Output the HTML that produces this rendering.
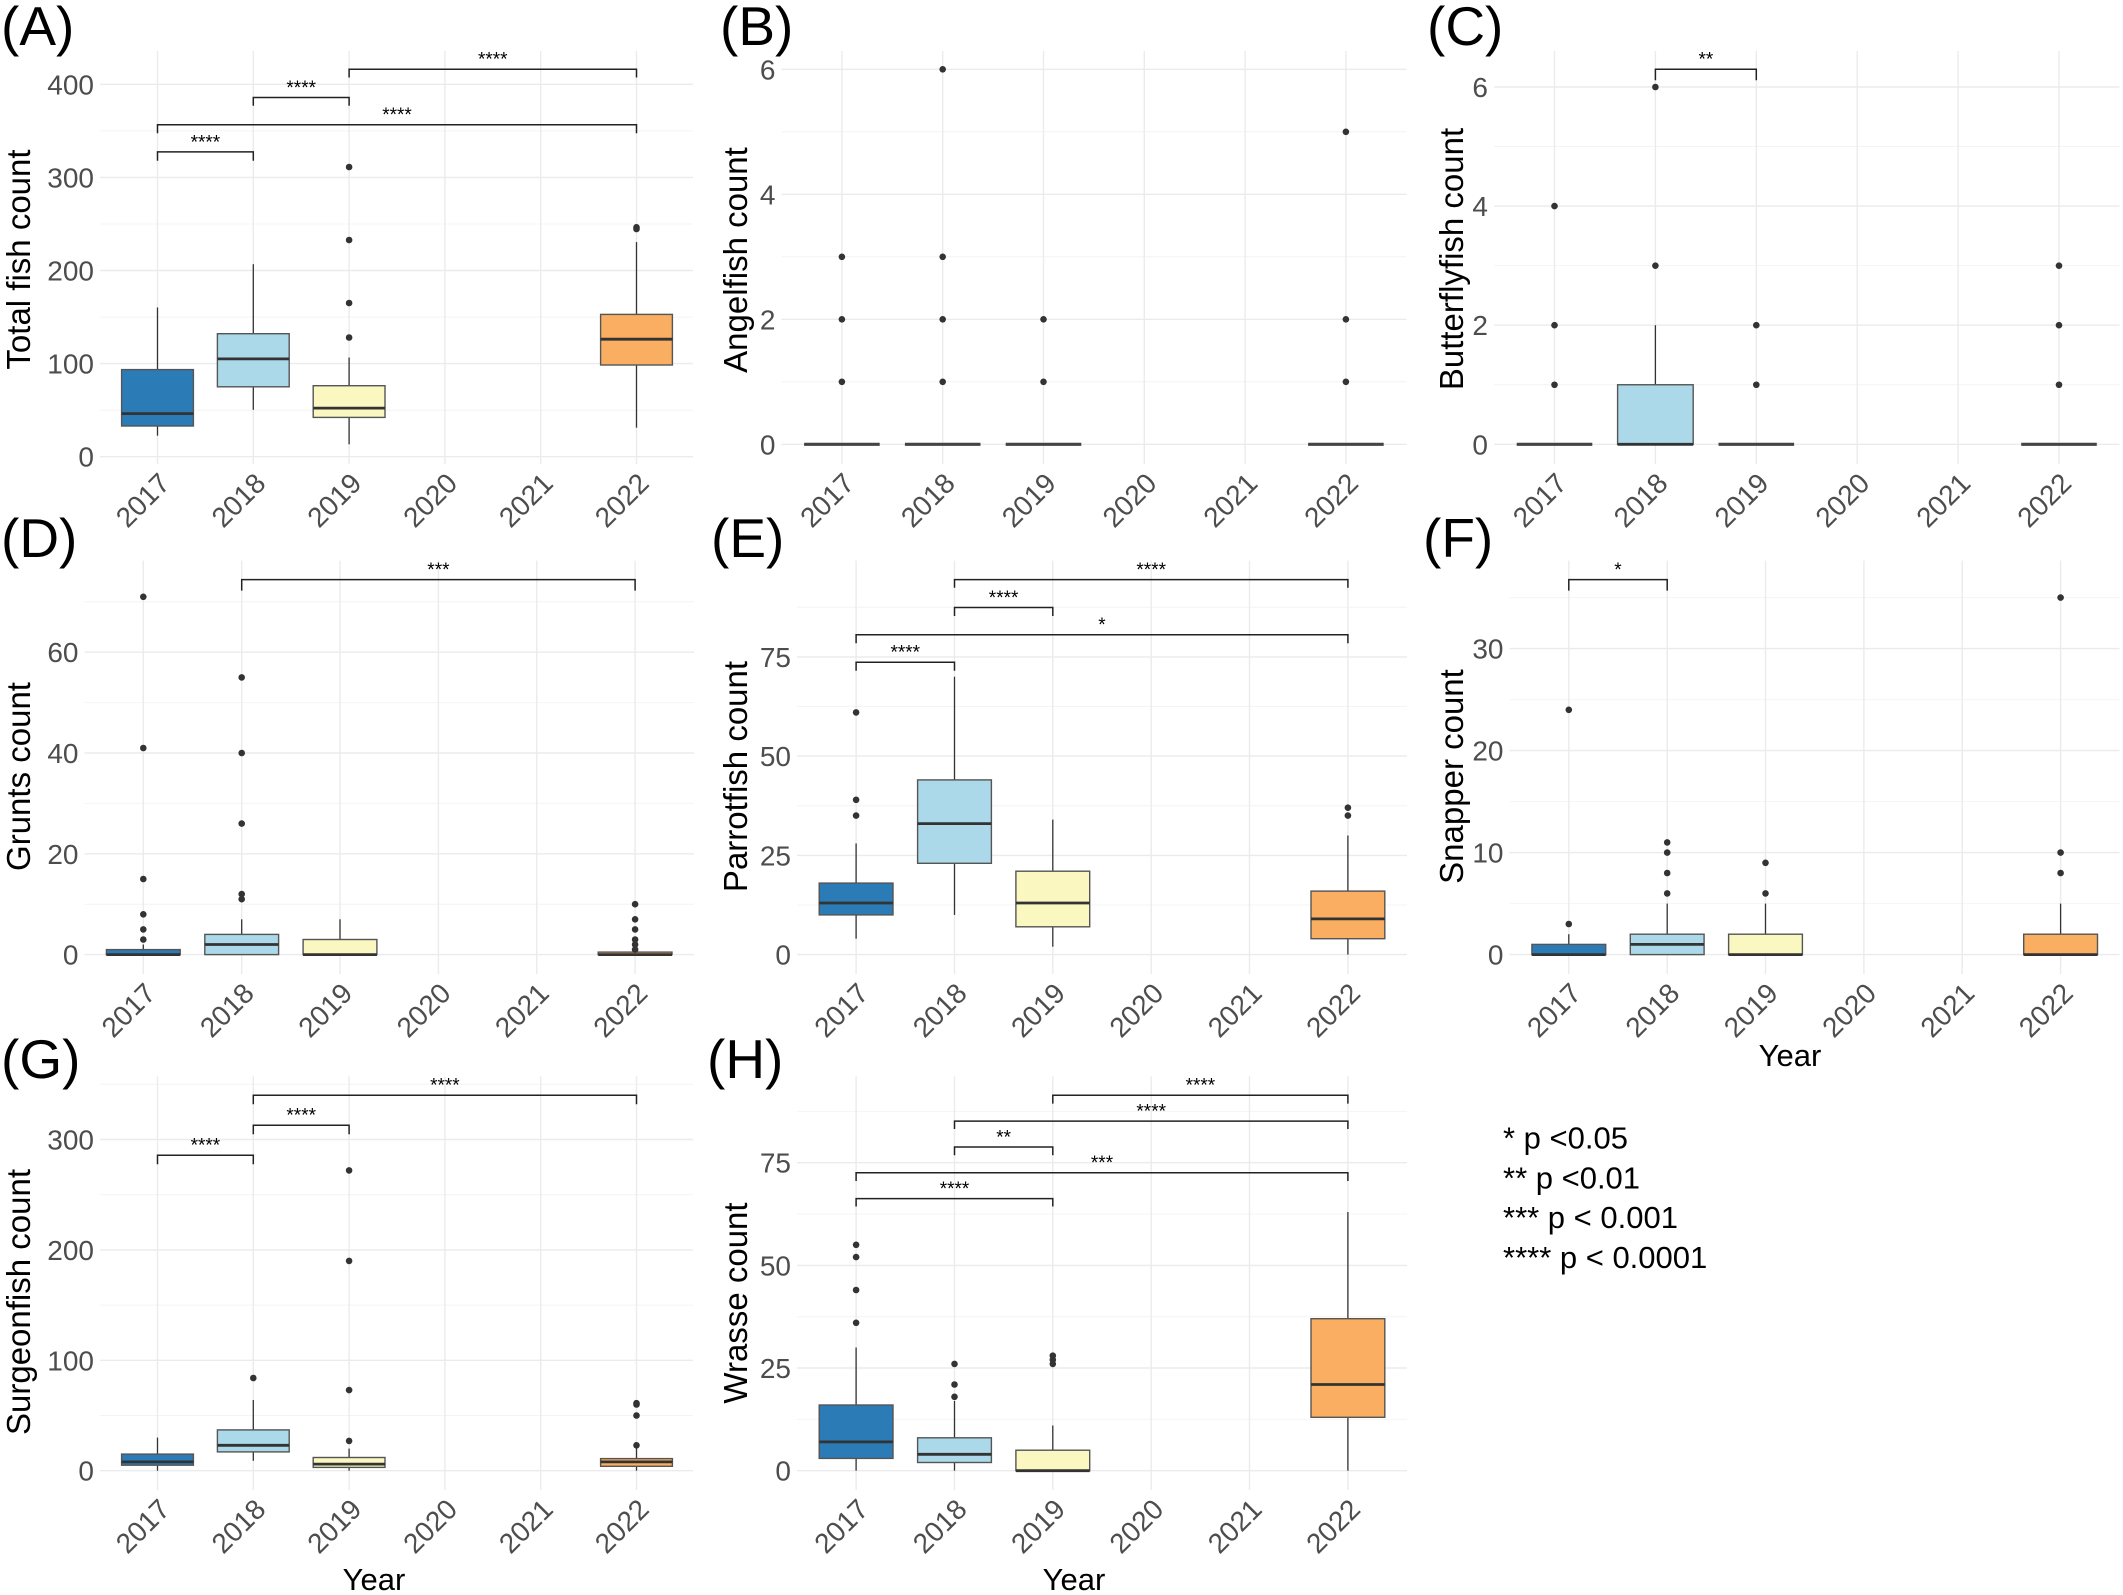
<!DOCTYPE html>
<html><head><meta charset="utf-8"><style>
html,body{margin:0;padding:0;background:#fff;}
svg{display:block;}
.M{stroke:#EBEBEB;stroke-width:1.4;fill:none}
.m{stroke:#F4F4F4;stroke-width:1;fill:none}
.yt{font-family:"Liberation Sans",Arial,sans-serif;font-size:28px;fill:#4D4D4D;text-anchor:end}
.xt{font-family:"Liberation Sans",Arial,sans-serif;font-size:28px;fill:#4D4D4D;text-anchor:end}
.at{font-family:"Liberation Sans",Arial,sans-serif;font-size:33px;fill:#000;text-anchor:middle}
.pl{font-family:"Liberation Sans",Arial,sans-serif;font-size:55px;fill:#000}
.st{font-family:"Liberation Sans",Arial,sans-serif;font-size:19px;fill:#000;text-anchor:middle}
.lg{font-family:"Liberation Sans",Arial,sans-serif;font-size:31px;fill:#000}
.br{stroke:#222;stroke-width:1.5;fill:none}
.wh{stroke:#333;stroke-width:1.3}
.md{stroke:#333;stroke-width:2.8}
.bx{stroke:#555;stroke-width:1.4}
.c1{fill:#2B7BB7}.c2{fill:#ABD9E9}.c3{fill:#FAF7C1}.c4{fill:#FAAE61}
.o{fill:#333}
</style></head><body>
<svg width="2123" height="1595" viewBox="0 0 2123 1595" xmlns="http://www.w3.org/2000/svg">
<rect width="2123" height="1595" fill="#fff"/>

<!-- ================= PANEL A ================= -->
<g>
<line class="m" x1="100" x2="693" y1="410.2" y2="410.2"/><line class="m" x1="100" x2="693" y1="317.1" y2="317.1"/><line class="m" x1="100" x2="693" y1="224" y2="224"/><line class="m" x1="100" x2="693" y1="130.9" y2="130.9"/>
<line class="M" x1="100" x2="693" y1="456.7" y2="456.7"/><line class="M" x1="100" x2="693" y1="363.6" y2="363.6"/><line class="M" x1="100" x2="693" y1="270.5" y2="270.5"/><line class="M" x1="100" x2="693" y1="177.4" y2="177.4"/><line class="M" x1="100" x2="693" y1="84.3" y2="84.3"/>
<line class="M" x1="157.5" x2="157.5" y1="51" y2="464"/><line class="M" x1="253.3" x2="253.3" y1="51" y2="464"/><line class="M" x1="349.1" x2="349.1" y1="51" y2="464"/><line class="M" x1="444.9" x2="444.9" y1="51" y2="464"/><line class="M" x1="540.7" x2="540.7" y1="51" y2="464"/><line class="M" x1="636.5" x2="636.5" y1="51" y2="464"/>
<text class="yt" x="94" y="466.7">0</text><text class="yt" x="94" y="373.6">100</text><text class="yt" x="94" y="280.5">200</text><text class="yt" x="94" y="187.4">300</text><text class="yt" x="94" y="94.3">400</text>
<line class="wh" x1="157.5" x2="157.5" y1="307.5" y2="369.6"/><line class="wh" x1="157.5" x2="157.5" y1="426" y2="435.7"/>
<rect class="bx c1" x="121.6" y="369.6" width="71.8" height="56.4"/><line class="md" x1="121.6" x2="193.4" y1="413.6" y2="413.6"/>
<line class="wh" x1="253.3" x2="253.3" y1="264.2" y2="333.7"/><line class="wh" x1="253.3" x2="253.3" y1="386.8" y2="409.8"/>
<rect class="bx c2" x="217.4" y="333.7" width="71.8" height="53.1"/><line class="md" x1="217.4" x2="289.2" y1="358.9" y2="358.9"/>
<line class="wh" x1="349.1" x2="349.1" y1="357.5" y2="385.7"/><line class="wh" x1="349.1" x2="349.1" y1="417.4" y2="444.3"/>
<rect class="bx c3" x="313.2" y="385.7" width="71.8" height="31.7"/><line class="md" x1="313.2" x2="385" y1="408.1" y2="408.1"/>
<circle class="o" cx="349.1" cy="167" r="3.3"/><circle class="o" cx="349.1" cy="240" r="3.3"/><circle class="o" cx="349.1" cy="303" r="3.3"/><circle class="o" cx="349.1" cy="337.5" r="3.3"/>
<line class="wh" x1="636.5" x2="636.5" y1="242.1" y2="314.4"/><line class="wh" x1="636.5" x2="636.5" y1="365" y2="427.7"/>
<rect class="bx c4" x="600.6" y="314.4" width="71.8" height="50.6"/><line class="md" x1="600.6" x2="672.4" y1="339.2" y2="339.2"/>
<circle class="o" cx="636.5" cy="229" r="3.3"/><circle class="o" cx="636.5" cy="227.3" r="3.3"/>
<path class="br" d="M349.1 77.5V69.2H636.5V77.5"/><text class="st" x="492.8" y="65.6">****</text>
<path class="br" d="M253.3 105.8V97.5H349.1V105.8"/><text class="st" x="301.2" y="93.9">****</text>
<path class="br" d="M157.5 133.3V124.7H636.5V133.3"/><text class="st" x="397" y="121.1">****</text>
<path class="br" d="M157.5 160.8V151.9H253.3V160.8"/><text class="st" x="205.4" y="148.3">****</text>
<text class="xt" transform="translate(171.5 485) rotate(-45)">2017</text><text class="xt" transform="translate(267.3 485) rotate(-45)">2018</text><text class="xt" transform="translate(363.1 485) rotate(-45)">2019</text><text class="xt" transform="translate(458.9 485) rotate(-45)">2020</text><text class="xt" transform="translate(554.7 485) rotate(-45)">2021</text><text class="xt" transform="translate(650.5 485) rotate(-45)">2022</text>
<text class="at" transform="translate(30 259.5) rotate(-90)">Total fish count</text>
<text class="pl" x="1" y="45">(A)</text>
</g>

<!-- ================= PANEL B ================= -->
<g>
<line class="m" x1="781.5" x2="1406.5" y1="381.8" y2="381.8"/><line class="m" x1="781.5" x2="1406.5" y1="256.8" y2="256.8"/><line class="m" x1="781.5" x2="1406.5" y1="131.8" y2="131.8"/>
<line class="M" x1="781.5" x2="1406.5" y1="444.3" y2="444.3"/><line class="M" x1="781.5" x2="1406.5" y1="319.3" y2="319.3"/><line class="M" x1="781.5" x2="1406.5" y1="194.3" y2="194.3"/><line class="M" x1="781.5" x2="1406.5" y1="69.3" y2="69.3"/>
<line class="M" x1="841.9" x2="841.9" y1="51" y2="464"/><line class="M" x1="942.7" x2="942.7" y1="51" y2="464"/><line class="M" x1="1043.5" x2="1043.5" y1="51" y2="464"/><line class="M" x1="1144.3" x2="1144.3" y1="51" y2="464"/><line class="M" x1="1245.1" x2="1245.1" y1="51" y2="464"/><line class="M" x1="1345.9" x2="1345.9" y1="51" y2="464"/>
<text class="yt" x="775.5" y="454.3">0</text><text class="yt" x="775.5" y="329.3">2</text><text class="yt" x="775.5" y="204.3">4</text><text class="yt" x="775.5" y="79.3">6</text>
<line class="md" x1="804.1" x2="879.7" y1="444.3" y2="444.3" style="stroke-width:3.2;stroke:#444"/>
<line class="md" x1="904.9" x2="980.5" y1="444.3" y2="444.3" style="stroke-width:3.2;stroke:#444"/>
<line class="md" x1="1005.7" x2="1081.3" y1="444.3" y2="444.3" style="stroke-width:3.2;stroke:#444"/>
<line class="md" x1="1308.1" x2="1383.7" y1="444.3" y2="444.3" style="stroke-width:3.2;stroke:#444"/>
<circle class="o" cx="841.9" cy="381.8" r="3.3"/><circle class="o" cx="841.9" cy="319.3" r="3.3"/><circle class="o" cx="841.9" cy="256.8" r="3.3"/>
<circle class="o" cx="942.7" cy="381.8" r="3.3"/><circle class="o" cx="942.7" cy="319.3" r="3.3"/><circle class="o" cx="942.7" cy="256.8" r="3.3"/><circle class="o" cx="942.7" cy="69.3" r="3.3"/>
<circle class="o" cx="1043.5" cy="381.8" r="3.3"/><circle class="o" cx="1043.5" cy="319.3" r="3.3"/>
<circle class="o" cx="1345.9" cy="381.8" r="3.3"/><circle class="o" cx="1345.9" cy="319.3" r="3.3"/><circle class="o" cx="1345.9" cy="131.8" r="3.3"/>
<text class="xt" transform="translate(855.9 485) rotate(-45)">2017</text><text class="xt" transform="translate(956.7 485) rotate(-45)">2018</text><text class="xt" transform="translate(1057.5 485) rotate(-45)">2019</text><text class="xt" transform="translate(1158.3 485) rotate(-45)">2020</text><text class="xt" transform="translate(1259.1 485) rotate(-45)">2021</text><text class="xt" transform="translate(1359.9 485) rotate(-45)">2022</text>
<text class="at" transform="translate(747 260) rotate(-90)">Angelfish count</text>
<text class="pl" x="720" y="45">(B)</text>
</g>

<!-- ================= PANEL C ================= -->
<g>
<line class="m" x1="1494" x2="2119.5" y1="384.75" y2="384.75"/><line class="m" x1="1494" x2="2119.5" y1="265.65" y2="265.65"/><line class="m" x1="1494" x2="2119.5" y1="146.55" y2="146.55"/>
<line class="M" x1="1494" x2="2119.5" y1="444.3" y2="444.3"/><line class="M" x1="1494" x2="2119.5" y1="325.2" y2="325.2"/><line class="M" x1="1494" x2="2119.5" y1="206.1" y2="206.1"/><line class="M" x1="1494" x2="2119.5" y1="87" y2="87"/>
<line class="M" x1="1554.5" x2="1554.5" y1="51" y2="464"/><line class="M" x1="1655.4" x2="1655.4" y1="51" y2="464"/><line class="M" x1="1756.3" x2="1756.3" y1="51" y2="464"/><line class="M" x1="1857.2" x2="1857.2" y1="51" y2="464"/><line class="M" x1="1958.1" x2="1958.1" y1="51" y2="464"/><line class="M" x1="2059" x2="2059" y1="51" y2="464"/>
<text class="yt" x="1488" y="454.3">0</text><text class="yt" x="1488" y="335.2">2</text><text class="yt" x="1488" y="216.1">4</text><text class="yt" x="1488" y="97">6</text>
<line class="md" x1="1516.7" x2="1592.3" y1="444.3" y2="444.3" style="stroke-width:3.2;stroke:#444"/>
<line class="wh" x1="1655.4" x2="1655.4" y1="325.2" y2="384.75"/>
<rect class="bx c2" x="1617.6" y="384.75" width="75.6" height="59.55"/><line class="md" x1="1617.6" x2="1693.2" y1="444.3" y2="444.3"/>
<line class="md" x1="1718.5" x2="1794.1" y1="444.3" y2="444.3" style="stroke-width:3.2;stroke:#444"/>
<line class="md" x1="2021.2" x2="2096.8" y1="444.3" y2="444.3" style="stroke-width:3.2;stroke:#444"/>
<circle class="o" cx="1554.5" cy="384.75" r="3.3"/><circle class="o" cx="1554.5" cy="325.2" r="3.3"/><circle class="o" cx="1554.5" cy="206.1" r="3.3"/>
<circle class="o" cx="1655.4" cy="265.65" r="3.3"/><circle class="o" cx="1655.4" cy="87" r="3.3"/>
<circle class="o" cx="1756.3" cy="384.75" r="3.3"/><circle class="o" cx="1756.3" cy="325.2" r="3.3"/>
<circle class="o" cx="2059" cy="384.75" r="3.3"/><circle class="o" cx="2059" cy="325.2" r="3.3"/><circle class="o" cx="2059" cy="265.65" r="3.3"/>
<path class="br" d="M1655.4 80.2V69.2H1756.3V80.2"/><text class="st" x="1705.9" y="65.6">**</text>
<text class="xt" transform="translate(1568.5 485) rotate(-45)">2017</text><text class="xt" transform="translate(1669.4 485) rotate(-45)">2018</text><text class="xt" transform="translate(1770.3 485) rotate(-45)">2019</text><text class="xt" transform="translate(1871.2 485) rotate(-45)">2020</text><text class="xt" transform="translate(1972.1 485) rotate(-45)">2021</text><text class="xt" transform="translate(2073 485) rotate(-45)">2022</text>
<text class="at" transform="translate(1463 259) rotate(-90)">Butterflyfish count</text>
<text class="pl" x="1427" y="45">(C)</text>
</g>

<!-- ================= PANEL D ================= -->
<g>
<line class="m" x1="84.5" x2="694" y1="904.2" y2="904.2"/><line class="m" x1="84.5" x2="694" y1="803.4" y2="803.4"/><line class="m" x1="84.5" x2="694" y1="702.6" y2="702.6"/><line class="m" x1="84.5" x2="694" y1="601.8" y2="601.8"/>
<line class="M" x1="84.5" x2="694" y1="954.6" y2="954.6"/><line class="M" x1="84.5" x2="694" y1="853.8" y2="853.8"/><line class="M" x1="84.5" x2="694" y1="753" y2="753"/><line class="M" x1="84.5" x2="694" y1="652.2" y2="652.2"/>
<line class="M" x1="143.3" x2="143.3" y1="560.6" y2="974"/><line class="M" x1="241.7" x2="241.7" y1="560.6" y2="974"/><line class="M" x1="340" x2="340" y1="560.6" y2="974"/><line class="M" x1="438.4" x2="438.4" y1="560.6" y2="974"/><line class="M" x1="536.7" x2="536.7" y1="560.6" y2="974"/><line class="M" x1="635.1" x2="635.1" y1="560.6" y2="974"/>
<text class="yt" x="78.5" y="964.6">0</text><text class="yt" x="78.5" y="863.8">20</text><text class="yt" x="78.5" y="763">40</text><text class="yt" x="78.5" y="662.2">60</text>
<line class="wh" x1="143.3" x2="143.3" y1="944.5" y2="949.6"/>
<rect class="bx c1" x="106.4" y="949.6" width="73.8" height="5"/><line class="md" x1="106.4" x2="180.2" y1="954.6" y2="954.6"/>
<circle class="o" cx="143.3" cy="939.5" r="3.3"/><circle class="o" cx="143.3" cy="929.4" r="3.3"/><circle class="o" cx="143.3" cy="914.3" r="3.3"/><circle class="o" cx="143.3" cy="879" r="3.3"/><circle class="o" cx="143.3" cy="748" r="3.3"/><circle class="o" cx="143.3" cy="596.8" r="3.3"/>
<line class="wh" x1="241.7" x2="241.7" y1="919.3" y2="934.4"/>
<rect class="bx c2" x="204.8" y="934.4" width="73.8" height="20.2"/><line class="md" x1="204.8" x2="278.6" y1="944.5" y2="944.5"/>
<circle class="o" cx="241.7" cy="899.2" r="3.3"/><circle class="o" cx="241.7" cy="894.1" r="3.3"/><circle class="o" cx="241.7" cy="823.6" r="3.3"/><circle class="o" cx="241.7" cy="753" r="3.3"/><circle class="o" cx="241.7" cy="677.4" r="3.3"/>
<line class="wh" x1="340" x2="340" y1="919.3" y2="939.5"/>
<rect class="bx c3" x="303.1" y="939.5" width="73.8" height="15.1"/><line class="md" x1="303.1" x2="376.9" y1="954.6" y2="954.6"/>
<rect class="bx c4" x="598.2" y="952.1" width="73.8" height="2.5"/><line class="md" x1="598.2" x2="672" y1="954.6" y2="954.6"/>
<circle class="o" cx="635.1" cy="949.6" r="3.3"/><circle class="o" cx="635.1" cy="944.5" r="3.3"/><circle class="o" cx="635.1" cy="939.5" r="3.3"/><circle class="o" cx="635.1" cy="929.4" r="3.3"/><circle class="o" cx="635.1" cy="919.3" r="3.3"/><circle class="o" cx="635.1" cy="904.2" r="3.3"/>
<path class="br" d="M241.7 590.6V579.6H635.1V590.6"/><text class="st" x="438.4" y="576">***</text>
<text class="xt" transform="translate(157.3 995) rotate(-45)">2017</text><text class="xt" transform="translate(255.7 995) rotate(-45)">2018</text><text class="xt" transform="translate(354 995) rotate(-45)">2019</text><text class="xt" transform="translate(452.4 995) rotate(-45)">2020</text><text class="xt" transform="translate(550.7 995) rotate(-45)">2021</text><text class="xt" transform="translate(649.1 995) rotate(-45)">2022</text>
<text class="at" transform="translate(30 776.5) rotate(-90)">Grunts count</text>
<text class="pl" x="1" y="557">(D)</text>
</g>

<!-- ================= PANEL E ================= -->
<g>
<line class="m" x1="797" x2="1407" y1="905" y2="905"/><line class="m" x1="797" x2="1407" y1="805.7" y2="805.7"/><line class="m" x1="797" x2="1407" y1="706.5" y2="706.5"/><line class="m" x1="797" x2="1407" y1="607.2" y2="607.2"/>
<line class="M" x1="797" x2="1407" y1="954.6" y2="954.6"/><line class="M" x1="797" x2="1407" y1="855.4" y2="855.4"/><line class="M" x1="797" x2="1407" y1="756.1" y2="756.1"/><line class="M" x1="797" x2="1407" y1="656.9" y2="656.9"/>
<line class="M" x1="856.1" x2="856.1" y1="560.6" y2="974"/><line class="M" x1="954.5" x2="954.5" y1="560.6" y2="974"/><line class="M" x1="1052.8" x2="1052.8" y1="560.6" y2="974"/><line class="M" x1="1151.2" x2="1151.2" y1="560.6" y2="974"/><line class="M" x1="1249.5" x2="1249.5" y1="560.6" y2="974"/><line class="M" x1="1347.9" x2="1347.9" y1="560.6" y2="974"/>
<text class="yt" x="791" y="964.6">0</text><text class="yt" x="791" y="865.4">25</text><text class="yt" x="791" y="766.1">50</text><text class="yt" x="791" y="666.9">75</text>
<line class="wh" x1="856.1" x2="856.1" y1="843.4" y2="883.1"/><line class="wh" x1="856.1" x2="856.1" y1="914.9" y2="938.7"/>
<rect class="bx c1" x="819.2" y="883.1" width="73.8" height="31.8"/><line class="md" x1="819.2" x2="893" y1="903" y2="903"/>
<circle class="o" cx="856.1" cy="815.6" r="3.3"/><circle class="o" cx="856.1" cy="799.8" r="3.3"/><circle class="o" cx="856.1" cy="712.4" r="3.3"/>
<line class="wh" x1="954.5" x2="954.5" y1="676.7" y2="779.9"/><line class="wh" x1="954.5" x2="954.5" y1="863.3" y2="914.9"/>
<rect class="bx c2" x="917.6" y="779.9" width="73.8" height="83.4"/><line class="md" x1="917.6" x2="991.4" y1="823.6" y2="823.6"/>
<line class="wh" x1="1052.8" x2="1052.8" y1="819.6" y2="871.2"/><line class="wh" x1="1052.8" x2="1052.8" y1="926.8" y2="946.7"/>
<rect class="bx c3" x="1015.9" y="871.2" width="73.8" height="55.6"/><line class="md" x1="1015.9" x2="1089.7" y1="903" y2="903"/>
<line class="wh" x1="1347.9" x2="1347.9" y1="835.5" y2="891.1"/><line class="wh" x1="1347.9" x2="1347.9" y1="938.7" y2="954.6"/>
<rect class="bx c4" x="1311" y="891.1" width="73.8" height="47.6"/><line class="md" x1="1311" x2="1384.8" y1="918.9" y2="918.9"/>
<circle class="o" cx="1347.9" cy="815.6" r="3.3"/><circle class="o" cx="1347.9" cy="807.7" r="3.3"/>
<path class="br" d="M954.5 587.8V579.6H1347.9V587.8"/><text class="st" x="1151.2" y="576">****</text>
<path class="br" d="M954.5 616V607.5H1052.8V616"/><text class="st" x="1003.6" y="603.9">****</text>
<path class="br" d="M856.1 643.3V634.7H1347.9V643.3"/><text class="st" x="1102" y="631.1">*</text>
<path class="br" d="M856.1 670.8V662.2H954.5V670.8"/><text class="st" x="905.3" y="658.6">****</text>
<text class="xt" transform="translate(870.1 995) rotate(-45)">2017</text><text class="xt" transform="translate(968.5 995) rotate(-45)">2018</text><text class="xt" transform="translate(1066.8 995) rotate(-45)">2019</text><text class="xt" transform="translate(1165.2 995) rotate(-45)">2020</text><text class="xt" transform="translate(1263.5 995) rotate(-45)">2021</text><text class="xt" transform="translate(1361.9 995) rotate(-45)">2022</text>
<text class="at" transform="translate(747 776.5) rotate(-90)">Parrotfish count</text>
<text class="pl" x="711" y="557">(E)</text>
</g>

<!-- ================= PANEL F ================= -->
<g>
<line class="m" x1="1509.5" x2="2119.5" y1="903.6" y2="903.6"/><line class="m" x1="1509.5" x2="2119.5" y1="801.6" y2="801.6"/><line class="m" x1="1509.5" x2="2119.5" y1="699.6" y2="699.6"/><line class="m" x1="1509.5" x2="2119.5" y1="597.6" y2="597.6"/>
<line class="M" x1="1509.5" x2="2119.5" y1="954.6" y2="954.6"/><line class="M" x1="1509.5" x2="2119.5" y1="852.6" y2="852.6"/><line class="M" x1="1509.5" x2="2119.5" y1="750.6" y2="750.6"/><line class="M" x1="1509.5" x2="2119.5" y1="648.6" y2="648.6"/>
<line class="M" x1="1568.8" x2="1568.8" y1="560.6" y2="974"/><line class="M" x1="1667.2" x2="1667.2" y1="560.6" y2="974"/><line class="M" x1="1765.5" x2="1765.5" y1="560.6" y2="974"/><line class="M" x1="1863.9" x2="1863.9" y1="560.6" y2="974"/><line class="M" x1="1962.2" x2="1962.2" y1="560.6" y2="974"/><line class="M" x1="2060.6" x2="2060.6" y1="560.6" y2="974"/>
<text class="yt" x="1503.5" y="964.6">0</text><text class="yt" x="1503.5" y="862.6">10</text><text class="yt" x="1503.5" y="760.6">20</text><text class="yt" x="1503.5" y="658.6">30</text>
<line class="wh" x1="1568.8" x2="1568.8" y1="934.2" y2="944.4"/>
<rect class="bx c1" x="1531.9" y="944.4" width="73.8" height="10.2"/><line class="md" x1="1531.9" x2="1605.7" y1="954.6" y2="954.6"/>
<circle class="o" cx="1568.8" cy="924" r="3.3"/><circle class="o" cx="1568.8" cy="709.8" r="3.3"/>
<line class="wh" x1="1667.2" x2="1667.2" y1="903.6" y2="934.2"/>
<rect class="bx c2" x="1630.3" y="934.2" width="73.8" height="20.4"/><line class="md" x1="1630.3" x2="1704.1" y1="944.4" y2="944.4"/>
<circle class="o" cx="1667.2" cy="893.4" r="3.3"/><circle class="o" cx="1667.2" cy="873" r="3.3"/><circle class="o" cx="1667.2" cy="852.6" r="3.3"/><circle class="o" cx="1667.2" cy="842.4" r="3.3"/>
<line class="wh" x1="1765.5" x2="1765.5" y1="903.6" y2="934.2"/>
<rect class="bx c3" x="1728.6" y="934.2" width="73.8" height="20.4"/><line class="md" x1="1728.6" x2="1802.4" y1="954.6" y2="954.6"/>
<circle class="o" cx="1765.5" cy="893.4" r="3.3"/><circle class="o" cx="1765.5" cy="862.8" r="3.3"/>
<line class="wh" x1="2060.6" x2="2060.6" y1="903.6" y2="934.2"/>
<rect class="bx c4" x="2023.7" y="934.2" width="73.8" height="20.4"/><line class="md" x1="2023.7" x2="2097.5" y1="954.6" y2="954.6"/>
<circle class="o" cx="2060.6" cy="873" r="3.3"/><circle class="o" cx="2060.6" cy="852.6" r="3.3"/><circle class="o" cx="2060.6" cy="597.6" r="3.3"/>
<path class="br" d="M1568.8 590.6V579.6H1667.2V590.6"/><text class="st" x="1618" y="576">*</text>
<text class="xt" transform="translate(1582.8 995) rotate(-45)">2017</text><text class="xt" transform="translate(1681.2 995) rotate(-45)">2018</text><text class="xt" transform="translate(1779.5 995) rotate(-45)">2019</text><text class="xt" transform="translate(1877.9 995) rotate(-45)">2020</text><text class="xt" transform="translate(1976.2 995) rotate(-45)">2021</text><text class="xt" transform="translate(2074.6 995) rotate(-45)">2022</text>
<text class="at" transform="translate(1463 776.5) rotate(-90)">Snapper count</text>
<text class="at" x="1790" y="1066" style="font-size:31px">Year</text>
<text class="pl" x="1423" y="557">(F)</text>
</g>

<!-- ================= PANEL G ================= -->
<g>
<line class="m" x1="100" x2="693" y1="1415.5" y2="1415.5"/><line class="m" x1="100" x2="693" y1="1305.1" y2="1305.1"/><line class="m" x1="100" x2="693" y1="1194.7" y2="1194.7"/><line class="m" x1="100" x2="693" y1="1084.3" y2="1084.3"/>
<line class="M" x1="100" x2="693" y1="1470.7" y2="1470.7"/><line class="M" x1="100" x2="693" y1="1360.3" y2="1360.3"/><line class="M" x1="100" x2="693" y1="1249.9" y2="1249.9"/><line class="M" x1="100" x2="693" y1="1139.5" y2="1139.5"/>
<line class="M" x1="157.5" x2="157.5" y1="1076.4" y2="1490"/><line class="M" x1="253.3" x2="253.3" y1="1076.4" y2="1490"/><line class="M" x1="349.1" x2="349.1" y1="1076.4" y2="1490"/><line class="M" x1="444.9" x2="444.9" y1="1076.4" y2="1490"/><line class="M" x1="540.7" x2="540.7" y1="1076.4" y2="1490"/><line class="M" x1="636.5" x2="636.5" y1="1076.4" y2="1490"/>
<text class="yt" x="94" y="1480.7">0</text><text class="yt" x="94" y="1370.3">100</text><text class="yt" x="94" y="1259.9">200</text><text class="yt" x="94" y="1149.5">300</text>
<line class="wh" x1="157.5" x2="157.5" y1="1437.6" y2="1454.1"/><line class="wh" x1="157.5" x2="157.5" y1="1465.2" y2="1470.7"/>
<rect class="bx c1" x="121.6" y="1454.1" width="71.8" height="11.1"/><line class="md" x1="121.6" x2="193.4" y1="1461.9" y2="1461.9"/>
<line class="wh" x1="253.3" x2="253.3" y1="1400" y2="1429.9"/><line class="wh" x1="253.3" x2="253.3" y1="1451.9" y2="1460.8"/>
<rect class="bx c2" x="217.4" y="1429.9" width="71.8" height="22"/><line class="md" x1="217.4" x2="289.2" y1="1445.3" y2="1445.3"/>
<circle class="o" cx="253.3" cy="1378" r="3.3"/>
<line class="wh" x1="349.1" x2="349.1" y1="1448.6" y2="1457.5"/><line class="wh" x1="349.1" x2="349.1" y1="1467.4" y2="1470.7"/>
<rect class="bx c3" x="313.2" y="1457.5" width="71.8" height="9.9"/><line class="md" x1="313.2" x2="385" y1="1464.1" y2="1464.1"/>
<circle class="o" cx="349.1" cy="1440.9" r="3.3"/><circle class="o" cx="349.1" cy="1390.1" r="3.3"/><circle class="o" cx="349.1" cy="1260.9" r="3.3"/><circle class="o" cx="349.1" cy="1170.4" r="3.3"/>
<line class="wh" x1="636.5" x2="636.5" y1="1446.4" y2="1458.6"/><line class="wh" x1="636.5" x2="636.5" y1="1466.3" y2="1470.7"/>
<rect class="bx c4" x="600.6" y="1458.6" width="71.8" height="7.7"/><line class="md" x1="600.6" x2="672.4" y1="1461.9" y2="1461.9"/>
<circle class="o" cx="636.5" cy="1445.3" r="3.3"/><circle class="o" cx="636.5" cy="1415.5" r="3.3"/><circle class="o" cx="636.5" cy="1404.5" r="3.3"/><circle class="o" cx="636.5" cy="1403.2" r="3.3"/>
<path class="br" d="M253.3 1104.2V1095.3H636.5V1104.2"/><text class="st" x="444.9" y="1091.7">****</text>
<path class="br" d="M253.3 1134.2V1125.3H349.1V1134.2"/><text class="st" x="301.2" y="1121.7">****</text>
<path class="br" d="M157.5 1164.2V1155.2H253.3V1164.2"/><text class="st" x="205.4" y="1151.6">****</text>
<text class="xt" transform="translate(171.5 1511) rotate(-45)">2017</text><text class="xt" transform="translate(267.3 1511) rotate(-45)">2018</text><text class="xt" transform="translate(363.1 1511) rotate(-45)">2019</text><text class="xt" transform="translate(458.9 1511) rotate(-45)">2020</text><text class="xt" transform="translate(554.7 1511) rotate(-45)">2021</text><text class="xt" transform="translate(650.5 1511) rotate(-45)">2022</text>
<text class="at" transform="translate(30 1302) rotate(-90)">Surgeonfish count</text>
<text class="at" x="374" y="1590" style="font-size:31px">Year</text>
<text class="pl" x="1" y="1078">(G)</text>
</g>

<!-- ================= PANEL H ================= -->
<g>
<line class="m" x1="797" x2="1407" y1="1419.4" y2="1419.4"/><line class="m" x1="797" x2="1407" y1="1316.7" y2="1316.7"/><line class="m" x1="797" x2="1407" y1="1214" y2="1214"/><line class="m" x1="797" x2="1407" y1="1111.4" y2="1111.4"/>
<line class="M" x1="797" x2="1407" y1="1470.7" y2="1470.7"/><line class="M" x1="797" x2="1407" y1="1368" y2="1368"/><line class="M" x1="797" x2="1407" y1="1265.4" y2="1265.4"/><line class="M" x1="797" x2="1407" y1="1162.7" y2="1162.7"/>
<line class="M" x1="856.1" x2="856.1" y1="1076.4" y2="1490"/><line class="M" x1="954.5" x2="954.5" y1="1076.4" y2="1490"/><line class="M" x1="1052.8" x2="1052.8" y1="1076.4" y2="1490"/><line class="M" x1="1151.2" x2="1151.2" y1="1076.4" y2="1490"/><line class="M" x1="1249.5" x2="1249.5" y1="1076.4" y2="1490"/><line class="M" x1="1347.9" x2="1347.9" y1="1076.4" y2="1490"/>
<text class="yt" x="791" y="1480.7">0</text><text class="yt" x="791" y="1378">25</text><text class="yt" x="791" y="1275.4">50</text><text class="yt" x="791" y="1172.7">75</text>
<line class="wh" x1="856.1" x2="856.1" y1="1347.5" y2="1405"/><line class="wh" x1="856.1" x2="856.1" y1="1458.4" y2="1470.7"/>
<rect class="bx c1" x="819.2" y="1405" width="73.8" height="53.4"/><line class="md" x1="819.2" x2="893" y1="1441.9" y2="1441.9"/>
<circle class="o" cx="856.1" cy="1322.8" r="3.3"/><circle class="o" cx="856.1" cy="1290" r="3.3"/><circle class="o" cx="856.1" cy="1257.1" r="3.3"/><circle class="o" cx="856.1" cy="1244.8" r="3.3"/>
<line class="wh" x1="954.5" x2="954.5" y1="1400.9" y2="1437.8"/><line class="wh" x1="954.5" x2="954.5" y1="1462.5" y2="1470.7"/>
<rect class="bx c2" x="917.6" y="1437.8" width="73.8" height="24.7"/><line class="md" x1="917.6" x2="991.4" y1="1454.3" y2="1454.3"/>
<circle class="o" cx="954.5" cy="1396.8" r="3.3"/><circle class="o" cx="954.5" cy="1384.5" r="3.3"/><circle class="o" cx="954.5" cy="1363.9" r="3.3"/>
<line class="wh" x1="1052.8" x2="1052.8" y1="1425.5" y2="1450.2"/>
<rect class="bx c3" x="1015.9" y="1450.2" width="73.8" height="20.5"/><line class="md" x1="1015.9" x2="1089.7" y1="1470.7" y2="1470.7"/>
<circle class="o" cx="1052.8" cy="1363.9" r="3.3"/><circle class="o" cx="1052.8" cy="1359.8" r="3.3"/><circle class="o" cx="1052.8" cy="1355.7" r="3.3"/>
<line class="wh" x1="1347.9" x2="1347.9" y1="1212" y2="1318.7"/><line class="wh" x1="1347.9" x2="1347.9" y1="1417.3" y2="1470.7"/>
<rect class="bx c4" x="1311" y="1318.7" width="73.8" height="98.6"/><line class="md" x1="1311" x2="1384.8" y1="1384.5" y2="1384.5"/>
<path class="br" d="M1052.8 1103.6V1095.3H1347.9V1103.6"/><text class="st" x="1200.4" y="1091.7">****</text>
<path class="br" d="M954.5 1129V1121.1H1347.9V1129"/><text class="st" x="1151.2" y="1117.5">****</text>
<path class="br" d="M954.5 1155.2V1147H1052.8V1155.2"/><text class="st" x="1003.6" y="1143.4">**</text>
<path class="br" d="M856.1 1181V1172.8H1347.9V1181"/><text class="st" x="1102" y="1169.2">***</text>
<path class="br" d="M856.1 1206.5V1198.6H1052.8V1206.5"/><text class="st" x="954.5" y="1195">****</text>
<text class="xt" transform="translate(870.1 1511) rotate(-45)">2017</text><text class="xt" transform="translate(968.5 1511) rotate(-45)">2018</text><text class="xt" transform="translate(1066.8 1511) rotate(-45)">2019</text><text class="xt" transform="translate(1165.2 1511) rotate(-45)">2020</text><text class="xt" transform="translate(1263.5 1511) rotate(-45)">2021</text><text class="xt" transform="translate(1361.9 1511) rotate(-45)">2022</text>
<text class="at" transform="translate(747 1303) rotate(-90)">Wrasse count</text>
<text class="at" x="1074" y="1590" style="font-size:31px">Year</text>
<text class="pl" x="707" y="1078">(H)</text>
</g>

<!-- ================= LEGEND ================= -->
<text class="lg" x="1503" y="1148.7">* p &lt;0.05</text>
<text class="lg" x="1503" y="1188.3">** p &lt;0.01</text>
<text class="lg" x="1503" y="1228.2">*** p &lt; 0.001</text>
<text class="lg" x="1503" y="1267.8">**** p &lt; 0.0001</text>
</svg>
</body></html>
